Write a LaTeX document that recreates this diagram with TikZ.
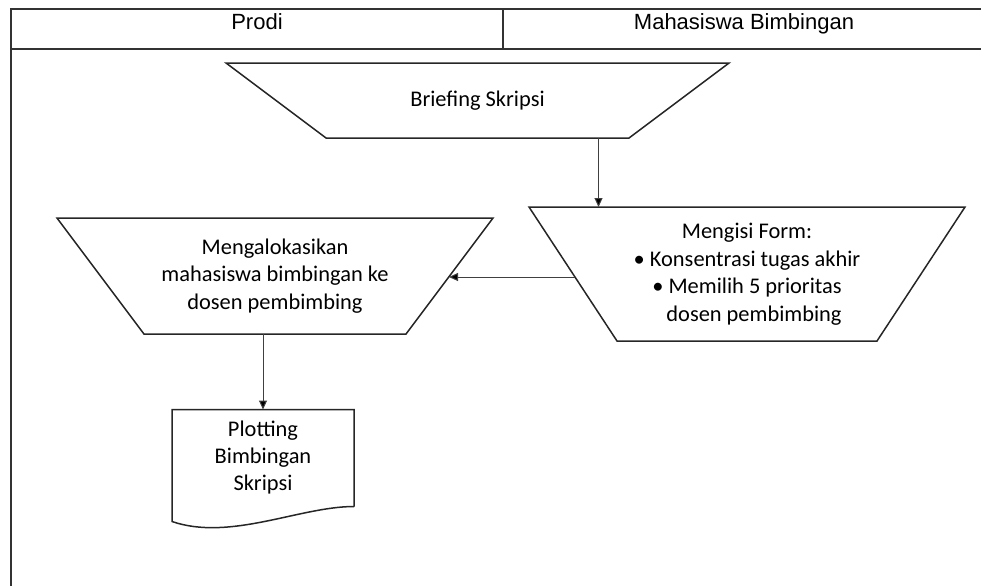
\documentclass[tikz,border=0pt]{standalone}
\usepackage{fontspec}
\setmainfont{Carlito}
\newfontfamily\headfont{Liberation Sans}
\usetikzlibrary{arrows.meta,positioning}

\tikzset{
  lane/.style={draw=black!80, line width=2pt},
  proc/.style={inner sep=0pt, outer sep=0pt, align=center,
    font=\fontsize{22.4}{27.5}\selectfont},
  trapline/.style={draw=black!85, line width=1.5pt, line join=miter},
  head/.style={font=\headfont\fontsize{22}{26}\selectfont, anchor=base},
  docbox/.style={minimum width=182pt, minimum height=97pt, inner sep=0pt,
    outer sep=0pt, align=center, font=\fontsize{22.4}{27}\selectfont},
  conn/.style={draw=black!75, line width=1pt},
}

\begin{document}
\begin{tikzpicture}[x=1pt, y=-1pt, >={Triangle[length=9pt,width=8pt]}]
  \useasboundingbox (0,0) rectangle (981,586);

  % swimlane frame
  \draw[lane] (11,586) -- (11,9) -- (981,9);
  \draw[lane] (11,49) -- (981,49);
  \draw[lane] (503,9) -- (503,49);
  \node[head] (prodi) at (257,30) {Prodi};
  \node[head] (mhs) at (744,30) {Mahasiswa Bimbingan};

  % process shapes
  \node[proc, minimum width=503pt, minimum height=75pt] (brief) at (477.5,100.5)
    {Briefing Skripsi};
  \node[proc, minimum width=436pt, minimum height=134pt] (form) at (747,274)
    {Mengisi Form:\\ \textbullet\ Konsentrasi tugas akhir\\
     \textbullet\ Memilih 5 prioritas\\ \hspace*{14pt}dosen pembimbing};
  \node[proc, minimum width=436pt, minimum height=116pt] (alokasi) at (275,276)
    {Mengalokasikan\\ mahasiswa bimbingan ke\\ dosen pembimbing};
  \foreach \n/\d in {brief/100, form/88, alokasi/87}
    \draw[trapline] (\n.north west) -- (\n.north east)
      -- ([xshift=-\d pt]\n.south east) -- ([xshift=\d pt]\n.south west) -- cycle;

  \node[docbox] (plot) at (263,458) {Plotting\\ Bimbingan\\ Skripsi};
  \draw[trapline] (plot.south east) -- (plot.north east)
    -- (plot.north west) -- ([yshift=-15pt]plot.south west)
    .. controls +(58,20) and +(-54,0) .. (plot.south east);

  \coordinate (b1) at ([xshift=121pt]brief.south);
  \coordinate (b2) at ([xshift=46pt, yshift=-3pt]form.west);

  \path[conn]
     (b1) edge[->] (b1 |- form.north)
     (b2) edge[->] ([xshift=-44pt]b2 -| alokasi.east)
     (plot.north |- alokasi.south) edge[->] (plot.north);
\end{tikzpicture}
\end{document}
